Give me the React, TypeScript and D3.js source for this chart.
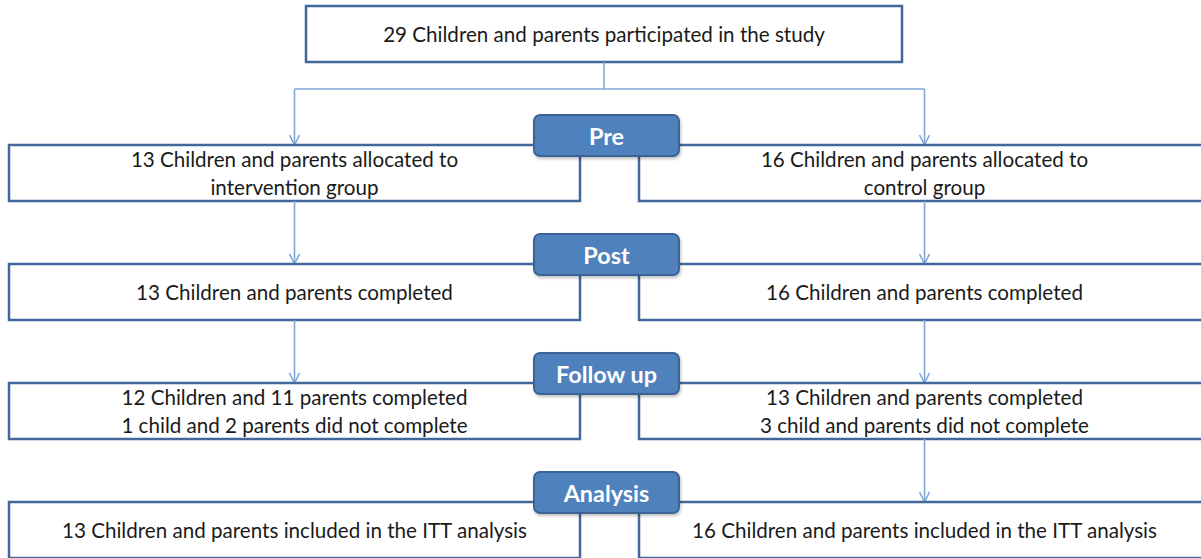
import React from 'react'
import * as d3 from 'd3'

const stages = ['Pre', 'Post', 'Follow up', 'Analysis']
const groups = ['intervention', 'control']
const topText = '29 Children and parents participated in the study'
const interventionText = [
  ['13 Children and parents allocated to', 'intervention group'],
  ['13 Children and parents completed'],
  ['12 Children and 11 parents completed', '1 child and 2 parents did not complete'],
  ['13 Children and parents included in the ITT analysis'],
]
const controlText = [
  ['16 Children and parents allocated to', 'control group'],
  ['16 Children and parents completed'],
  ['13 Children and parents completed', '3 child and parents did not complete'],
  ['16 Children and parents included in the ITT analysis'],
]
// arrow from stage i to stage i+1
const interventionArrows = [true, true, false]
const controlArrows = [true, true, true]

const width = 1201
const height = 558
const boxH = 56
const headW = 145
const headH = 41
const headUp = 30
const lineH = 28
const font = 'Lato, "Open Sans", sans-serif'

const boxStroke = '#41679B'
const linkStroke = '#7FA7D9'
const headFill = '#4F81BD'
const headStroke = '#3A6395'

function Arrow({ x, y1, y2 }: { x: number; y1: number; y2: number }) {
  return (
    <g stroke={linkStroke} strokeWidth={1.6} fill="none">
      <line x1={x} x2={x} y1={y1} y2={y2} />
      <path d={`M${x - 5},${y2 - 10}L${x},${y2}L${x + 5},${y2 - 10}`} />
    </g>
  )
}

function App() {
  const y = d3.scalePoint<string>().domain(stages).range([145, 502])
  const x = d3.scaleBand<string>().domain(groups).range([9, 1210]).paddingInner(0.0937)
  const bw = x.bandwidth()
  const cx = (g: string) => (x(g) as number) + bw / 2
  const headX = 606.5
  const top = { x0: 306, x1: 902, y0: 6, y1: 62 }
  const topCx = (top.x0 + top.x1) / 2
  const splitY = 89
  const texts = [interventionText, controlText]
  const arrows = [interventionArrows, controlArrows]

  return (
    <svg width={width} height={height} style={{ position: 'absolute', left: 0, top: 0, background: '#fff' }}>
      <defs>
        <filter id="sh" x="-10%" y="-20%" width="130%" height="160%">
          <feDropShadow dx="1" dy="2" stdDeviation="1.5" floodColor="#000" floodOpacity="0.25" />
        </filter>
      </defs>

      <rect x={top.x0} y={top.y0} width={top.x1 - top.x0} height={top.y1 - top.y0}
        fill="#fff" stroke={boxStroke} strokeWidth={2.5} />
      <text x={topCx} y={(top.y0 + top.y1) / 2} textAnchor="middle" dominantBaseline="central"
        fontFamily={font} fontSize={20.6} fill="#1a1a1a">{topText}</text>

      <g stroke={linkStroke} strokeWidth={1.6} fill="none">
        <line x1={topCx} x2={topCx} y1={top.y1} y2={splitY} />
        <line x1={cx(groups[0])} x2={cx(groups[1])} y1={splitY} y2={splitY} />
      </g>
      {groups.map(g => (
        <Arrow key={g} x={cx(g)} y1={splitY} y2={y(stages[0]) as number} />
      ))}

      {groups.map((g, gi) =>
        stages.map((s, si) => {
          const by = y(s) as number
          const lines = texts[gi][si]
          const mid = by + boxH / 2
          return (
            <g key={g + s}>
              <rect x={x(g)} y={by} width={bw} height={boxH} fill="#fff" stroke={boxStroke} strokeWidth={2.5} />
              {lines.map((t, li) => (
                <text key={li} x={cx(g)} y={mid + (li - (lines.length - 1) / 2) * lineH}
                  textAnchor="middle" dominantBaseline="central" fontFamily={font} fontSize={20.6} fill="#1a1a1a">
                  {t}
                </text>
              ))}
              {si < stages.length - 1 && arrows[gi][si] && (
                <Arrow x={cx(g)} y1={by + boxH} y2={y(stages[si + 1]) as number} />
              )}
            </g>
          )
        })
      )}

      {stages.map(s => {
        const hy = (y(s) as number) - headUp
        return (
          <g key={s}>
            <rect x={headX - headW / 2} y={hy} width={headW} height={headH} rx={6}
              fill={headFill} stroke={headStroke} strokeWidth={2} filter="url(#sh)" />
            <text x={headX} y={hy + headH / 2} textAnchor="middle" dominantBaseline="central"
              fontFamily={font} fontWeight={700} fontSize={23.4} fill="#fff">{s}</text>
          </g>
        )
      })}
    </svg>
  )
}

export default App
